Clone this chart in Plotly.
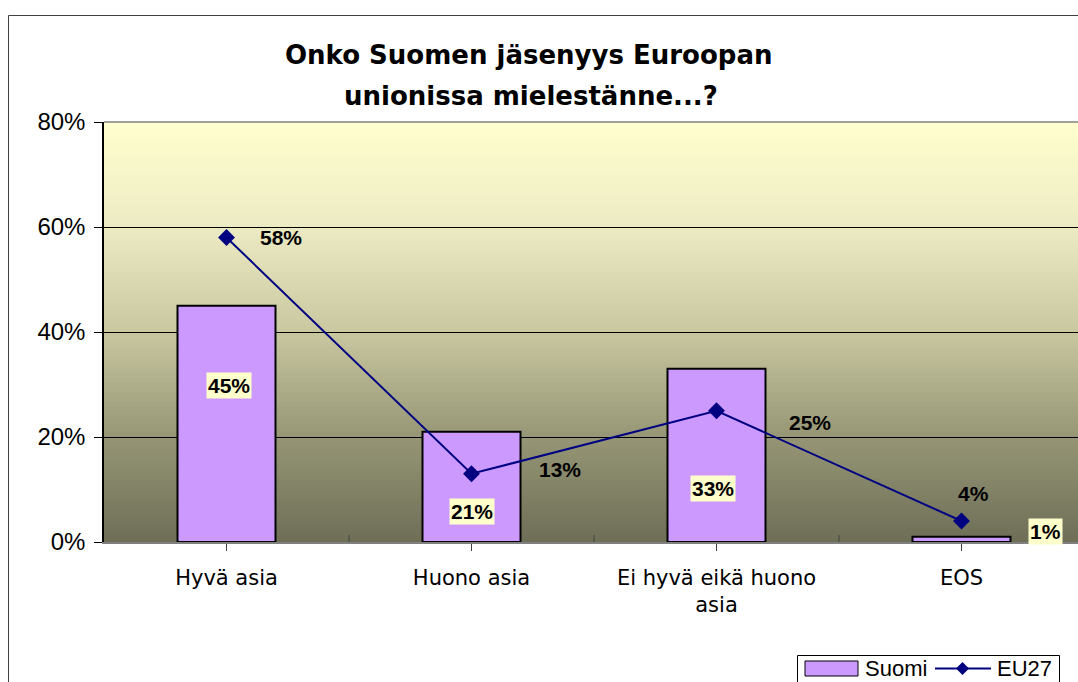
import plotly.graph_objects as go

categories = ["Hyvä asia", "Huono asia", "Ei hyvä eikä huono<br>asia", "EOS"]
suomi = [0.45, 0.21, 0.33, 0.01]
eu27 = [0.58, 0.13, 0.25, 0.04]
y_ticks = [0, 0.2, 0.4, 0.6, 0.8]
y_ticktext = ["0%", "20%", "40%", "60%", "80%"]
series_names = ["Suomi", "EU27"]

# label offsets (pixels) relative to the mark
suomi_lbl_dx = [2, 0, -4, 84]
suomi_lbl_dy = [-80, -80, -120, 5]
eu_lbl_dx = [54, 88, 93, 12]
eu_lbl_dy = [0, 4, -12, 28]

OFF = 0  # body margin removed via post_script
W, H = 1078, 682
ML, MR, MT = 104, 0, 122
MB = H - 542
PW = W - ML - MR
PH = H - MT - MB
cat_px = 245.0
xs = list(range(len(categories)))
x_range = [-0.5, -0.5 + PW / cat_px]

BAR_COLOR = "#CC99FF"
LINE_COLOR = "#000080"

fig = go.Figure()
fig.add_trace(go.Bar(
    x=xs, y=suomi, name=series_names[0], width=0.4, showlegend=False,
    marker=dict(color=BAR_COLOR, line=dict(color="black", width=2)),
))
fig.add_trace(go.Scatter(
    x=xs, y=eu27, name=series_names[1], mode="lines+markers", showlegend=False,
    line=dict(color=LINE_COLOR, width=2),
    marker=dict(symbol="diamond", size=13, color=LINE_COLOR),
))


def px_x(p):
    return (p - OFF - ML) / PW


def px_y(p):
    return (H - MB - (p - OFF)) / PH


# gradient background
def lerp(a, b, t):
    return tuple(int(round(a[i] + (b[i] - a[i]) * t)) for i in range(3))

stops = [(0.0, (110, 110, 88)), (0.2, (150, 150, 118)), (0.4, (200, 199, 160)),
         (0.6, (236, 235, 196)), (0.8, (255, 255, 206))]
shapes = []
n = 140
for i in range(n):
    y0 = 0.8 * i / n
    ym = 0.8 * (i + 0.5) / n
    for j in range(len(stops) - 1):
        if stops[j][0] <= ym <= stops[j + 1][0]:
            t = (ym - stops[j][0]) / (stops[j + 1][0] - stops[j][0])
            c = lerp(stops[j][1], stops[j + 1][1], t)
            break
    shapes.append(dict(type="rect", xref="paper", yref="y", x0=0, x1=1, y0=y0, y1=0.8,
                       fillcolor="rgb(%d,%d,%d)" % c, line=dict(width=0), layer="below"))

# top border of plot area
shapes.append(dict(type="line", xref="paper", yref="paper", x0=0, x1=1, y0=1, y1=1,
                   line=dict(color="#808080", width=1.5)))
# inside parts of category ticks
for k in range(len(categories)):
    shapes.append(dict(type="line", xref="x", yref="paper", x0=k + 0.5, x1=k + 0.5,
                       y0=0, y1=7 / PH, line=dict(color="#404040", width=1)))
# outer chart border
shapes.append(dict(type="rect", xref="paper", yref="paper",
                   x0=px_x(8.5), x1=px_x(1120), y0=px_y(15.5), y1=px_y(720),
                   line=dict(color="#404040", width=1), fillcolor="rgba(0,0,0,0)"))

# manual legend (Excel-style)
shapes.append(dict(type="rect", xref="paper", yref="paper",
                   x0=px_x(797.5), x1=px_x(1059.5), y0=px_y(655.5), y1=px_y(720),
                   line=dict(color="black", width=1), fillcolor="white"))
shapes.append(dict(type="rect", xref="paper", yref="paper",
                   x0=px_x(805), x1=px_x(858), y0=px_y(661), y1=px_y(676),
                   line=dict(color="black", width=1), fillcolor=BAR_COLOR))
shapes.append(dict(type="line", xref="paper", yref="paper",
                   x0=px_x(935), x1=px_x(991), y0=px_y(668.5), y1=px_y(668.5),
                   line=dict(color=LINE_COLOR, width=2)))
cx, cy, r = 962.5, 668.5, 6.5
shapes.append(dict(type="path", xref="paper", yref="paper",
                   path="M %f %f L %f %f L %f %f L %f %f Z" % (
                       px_x(cx), px_y(cy - r), px_x(cx + r), px_y(cy),
                       px_x(cx), px_y(cy + r), px_x(cx - r), px_y(cy)),
                   line=dict(color=LINE_COLOR, width=0), fillcolor=LINE_COLOR))

LBL_FONT = dict(family="Liberation Sans, Arial", size=21, color="black")
annotations = []
for i, v in enumerate(suomi):
    annotations.append(dict(x=xs[i], y=v, xref="x", yref="y", text="<b>%d%%</b>" % round(v * 100),
                            showarrow=False, xshift=suomi_lbl_dx[i], yshift=suomi_lbl_dy[i],
                            bgcolor="#FFFFCC", borderpad=1, font=LBL_FONT))
for i, v in enumerate(eu27):
    annotations.append(dict(x=xs[i], y=v, xref="x", yref="y", text="<b>%d%%</b>" % round(v * 100),
                            showarrow=False, xshift=eu_lbl_dx[i], yshift=eu_lbl_dy[i],
                            font=LBL_FONT))
annotations.append(dict(x=px_x(529), y=px_y(55), xref="paper", yref="paper",
                        text="<b>Onko Suomen jäsenyys Euroopan</b>", showarrow=False,
                        font=dict(family="DejaVu Sans", size=26, color="black"), yanchor="middle"))
annotations.append(dict(x=px_x(531), y=px_y(96), xref="paper", yref="paper",
                        text="<b>unionissa mielestänne...?</b>", showarrow=False,
                        font=dict(family="DejaVu Sans", size=26, color="black"), yanchor="middle"))
LEG_FONT = dict(family="Liberation Sans, Arial", size=22, color="black")
annotations.append(dict(x=px_x(863), y=px_y(668), xref="paper", yref="paper", text=series_names[0],
                        showarrow=False, xanchor="left", yanchor="middle", font=LEG_FONT))
annotations.append(dict(x=px_x(995), y=px_y(668), xref="paper", yref="paper", text=series_names[1],
                        showarrow=False, xanchor="left", yanchor="middle", font=LEG_FONT))

fig.update_layout(
    width=W, height=H,
    margin=dict(l=ML, r=MR, t=MT, b=MB, autoexpand=False),
    paper_bgcolor="white", plot_bgcolor="rgba(0,0,0,0)",
    shapes=shapes, annotations=annotations,
    showlegend=False,
)
fig.update_xaxes(
    range=x_range, tickmode="array", tickvals=xs, ticktext=categories,
    tickson="boundaries", ticks="outside", ticklen=7, tickcolor="#404040",
    showline=True, linecolor="#808080", linewidth=1.5, showgrid=False, zeroline=False,
    tickfont=dict(family="DejaVu Sans", size=21, color="black"), ticklabelstandoff=9,
)
fig.update_yaxes(
    range=[0, 0.8], tickmode="array", tickvals=y_ticks, ticktext=y_ticktext,
    ticks="outside", ticklen=8, tickcolor="black",
    showline=True, linecolor="black", linewidth=1.5,
    showgrid=True, gridcolor="black", gridwidth=1, zeroline=False,
    tickfont=dict(family="Liberation Sans, Arial", size=24, color="black"), ticklabelstandoff=4,
)
post = ("document.documentElement.style.margin='0';document.body.style.margin='0';"
        "document.documentElement.style.overflow='hidden';document.body.style.overflow='hidden';")
fig.write_html("out.html", post_script=post, config={"displayModeBar": False})
